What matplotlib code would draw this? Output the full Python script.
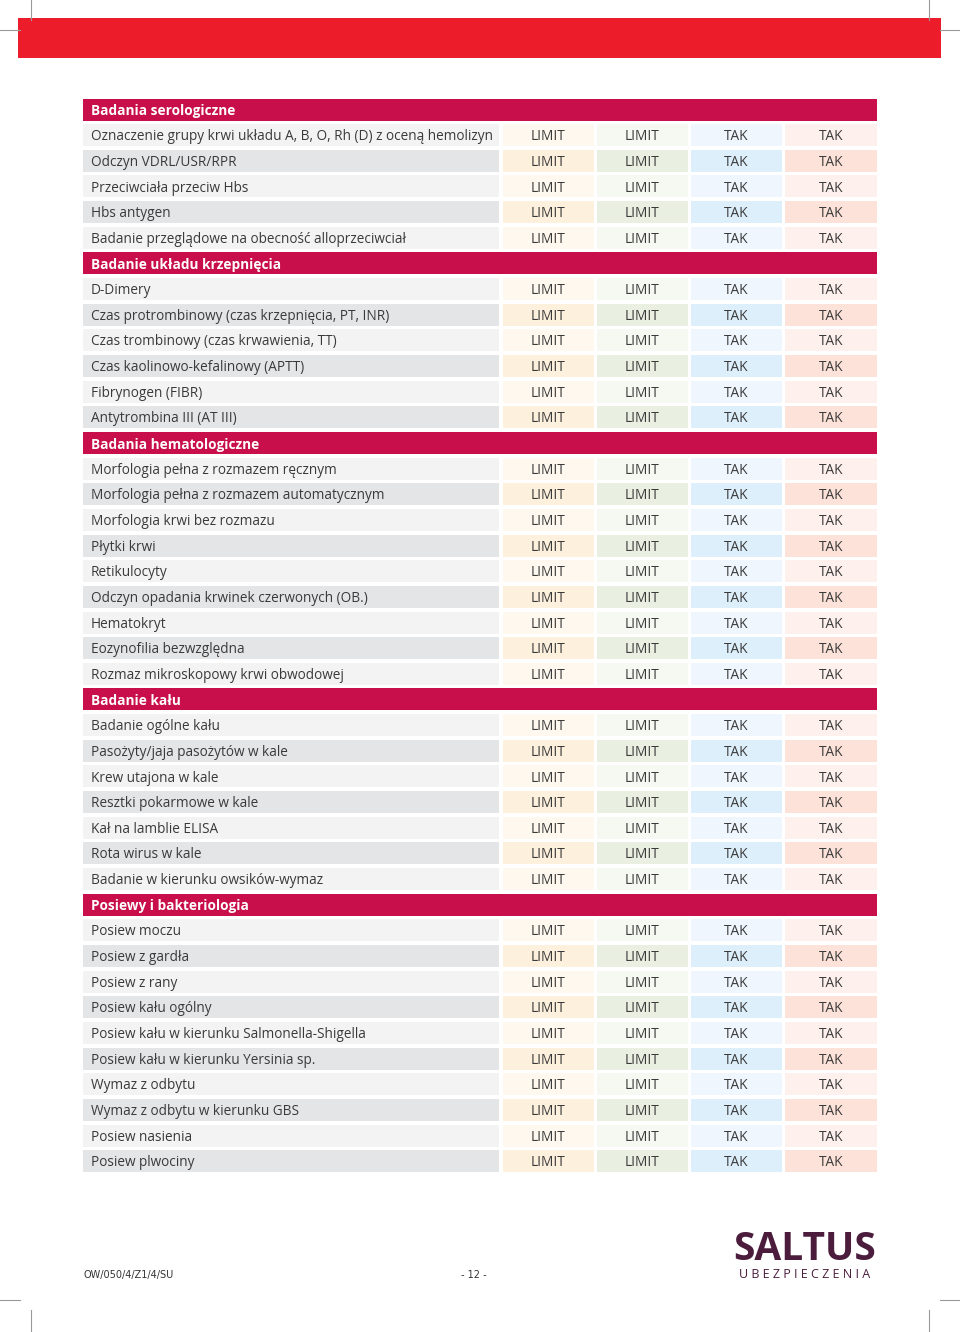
"""Price list table page: tests vs. coverage variants (LIMIT / TAK)."""

import matplotlib
matplotlib.use("Agg")
import matplotlib.pyplot as plt

plt.rcParams["font.family"] = ["Open Sans", "DejaVu Sans"]

# ---- data -------------------------------------------------------------------
section_titles = [
    "Badania serologiczne",
    "Badanie układu krzepnięcia",
    "Badania hematologiczne",
    "Badanie kału",
    "Posiewy i bakteriologia",
]

section_tests = [
    [
        "Oznaczenie grupy krwi układu A, B, O, Rh (D) z oceną hemolizyn",
        "Odczyn VDRL/USR/RPR",
        "Przeciwciała przeciw Hbs",
        "Hbs antygen",
        "Badanie przeglądowe na obecność alloprzeciwciał",
    ],
    [
        "D-Dimery",
        "Czas protrombinowy (czas krzepnięcia, PT, INR)",
        "Czas trombinowy (czas krwawienia, TT)",
        "Czas kaolinowo-kefalinowy (APTT)",
        "Fibrynogen (FIBR)",
        "Antytrombina III (AT III)",
    ],
    [
        "Morfologia pełna z rozmazem ręcznym",
        "Morfologia pełna z rozmazem automatycznym",
        "Morfologia krwi bez rozmazu",
        "Płytki krwi",
        "Retikulocyty",
        "Odczyn opadania krwinek czerwonych (OB.)",
        "Hematokryt",
        "Eozynofilia bezwzględna",
        "Rozmaz mikroskopowy krwi obwodowej",
    ],
    [
        "Badanie ogólne kału",
        "Pasożyty/jaja pasożytów w kale",
        "Krew utajona w kale",
        "Resztki pokarmowe w kale",
        "Kał na lamblie ELISA",
        "Rota wirus w kale",
        "Badanie w kierunku owsików-wymaz",
    ],
    [
        "Posiew moczu",
        "Posiew z gardła",
        "Posiew z rany",
        "Posiew kału ogólny",
        "Posiew kału w kierunku Salmonella-Shigella",
        "Posiew kału w kierunku Yersinia sp.",
        "Wymaz z odbytu",
        "Wymaz z odbytu w kierunku GBS",
        "Posiew nasienia",
        "Posiew plwociny",
    ],
]

column_values = ["LIMIT", "LIMIT", "TAK", "TAK"]

footer_code = "OW/050/4/Z1/4/SU"
page_label = "- 12 -"

# ---- style ------------------------------------------------------------------
HEADER_COLOR = "#c80f4b"
TOP_BAR_COLOR = "#ed1c2a"
LABEL_COLORS = ("#f3f3f3", "#e4e5e7")
VALUE_COLORS = [
    ("#fef8ee", "#fdf0dd"),
    ("#f6f9f1", "#e9f0e2"),
    ("#eff6fe", "#ddeffb"),
    ("#fef0ed", "#fce2d8"),
]
TEXT_COLOR = "#3a3a3a"
LOGO_COLOR = "#4b1c3c"

FIRST_ROW_Y = 109.5
ROW_STEP = 25.65
CELL_H = 22
TEXT_DY = 1.6
FONT_SIZE = 9.8
LABEL_X0, LABEL_X1 = 83, 499
VALUE_COLS = [(503, 594), (597, 688), (691, 782), (785, 877)]

fig = plt.figure(figsize=(9.6, 13.32), dpi=100)
ax = fig.add_axes([0, 0, 1, 1])
ax.set_xlim(0, 960)
ax.set_ylim(1332, 0)
ax.axis("off")

# top red band and crop marks
ax.barh(38, 923, left=18, height=40, color=TOP_BAR_COLOR)
mark = dict(color="#9a9a9a", lw=0.8)
for x in (31, 929):
    ax.plot([x, x], [0, 20], **mark)
    ax.plot([x, x], [1310, 1332], **mark)
for x0, x1 in ((0, 20), (940, 960)):
    ax.plot([x0, x1], [30, 30], **mark)
    ax.plot([x0, x1], [1300, 1300], **mark)

row = 0
for title, tests in zip(section_titles, section_tests):
    y = FIRST_ROW_Y + row * ROW_STEP
    ax.barh(y, VALUE_COLS[-1][1] - LABEL_X0, left=LABEL_X0, height=CELL_H,
            color=HEADER_COLOR)
    ax.text(LABEL_X0 + 8, y + TEXT_DY, title, color="white", fontsize=FONT_SIZE,
            fontweight="bold", va="center", ha="left")
    row += 1
    for k, test in enumerate(tests):
        y = FIRST_ROW_Y + row * ROW_STEP
        shade = k % 2
        ax.barh(y, LABEL_X1 - LABEL_X0, left=LABEL_X0, height=CELL_H,
                color=LABEL_COLORS[shade])
        ax.text(LABEL_X0 + 8, y + TEXT_DY, test, color=TEXT_COLOR,
                fontsize=FONT_SIZE, va="center", ha="left")
        for (x0, x1), colors, value in zip(VALUE_COLS, VALUE_COLORS, column_values):
            ax.barh(y, x1 - x0, left=x0, height=CELL_H, color=colors[shade])
            ax.text((x0 + x1) / 2, y + TEXT_DY, value, color=TEXT_COLOR,
                    fontsize=FONT_SIZE, va="center", ha="center")
        row += 1

# footer
ax.text(83, 1275, footer_code, fontsize=7, color="#333333", va="center",
        ha="left", family=["Liberation Sans Narrow", "DejaVu Sans"])
ax.text(474, 1275, page_label, fontsize=7, color="#333333", va="center",
        ha="center", family=["Liberation Sans Narrow", "DejaVu Sans"])
ax.text(805, 1249, "SALTUS", fontsize=28, fontweight="bold", color=LOGO_COLOR,
        va="center", ha="center")
ax.text(805, 1274, " ".join("UBEZPIECZENIA"), fontsize=9,
        color=LOGO_COLOR, va="center", ha="center")

fig.savefig("out.png", dpi=100)
